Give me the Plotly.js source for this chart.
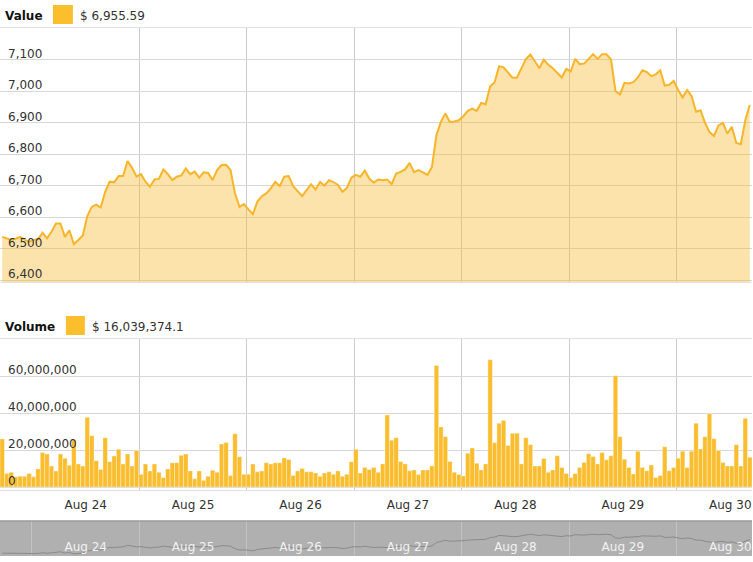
<!DOCTYPE html>
<html>
<head>
<meta charset="utf-8">
<script src="https://cdn.plot.ly/plotly-3.0.1.min.js"></script>
<style>html,body{margin:0;padding:0;background:#fff}#chart{width:753px;height:562px}</style>
</head>
<body>
<div id="chart"></div>
<script>
// Hourly series, first bar starts at this time (UTC)
const startTimeMs = Date.UTC(2018, 7, 23, 16, 51, 22);
const hourMs = 3600000;

const price = [
6537,6533,6527,6531,6537,6528,6521,6527,6529,6550,6532,6553,6579,6579,6537,6558,6514,6527,6541,6603,
6632,6639,6630,6680,6712,6710,6730,6730,6778,6756,6728,6736,6712,6696,6719,6721,6751,6736,6717,6728,
6732,6754,6736,6744,6725,6742,6740,6717,6749,6765,6766,6749,6675,6632,6641,6624,6609,6649,6666,6675,
6691,6712,6698,6728,6730,6698,6683,6666,6685,6704,6687,6711,6700,6717,6711,6702,6680,6692,6725,6734,
6728,6747,6722,6709,6719,
6717,6719,6704,6738,6743,6751,6772,6742,6749,6742,6734,6759,6860,6902,6929,6902,6903,6907,6920,6937,
6944,6937,6962,6958,7015,7028,7079,7075,7058,7042,7043,7070,7102,7116,7094,7072,7100,7083,7072,7056,
7043,7070,7062,7102,7085,7087,7103,7117,7102,7117,7117,7100,7000,6989,7026,7024,7028,7043,7066,7060,
7047,7053,7066,7017,7020,7032,7003,6979,7003,6984,6934,6939,6899,6870,6857,6891,6899,6865,6886,6835,
6831,6907,6955.59
];

const volumeMillions = [
26,7.3,8,5.5,5.8,5.8,7.3,5.5,9.8,18.6,17.8,11.3,8.6,17.8,15.5,11.8,25.5,12.4,11.3,37.7,
27.7,14.2,9.5,26.6,13.7,16.7,20.4,12.4,17.8,11.3,19.7,6.9,12.4,8.7,12.4,8,5.1,9.8,13.1,13.1,
17.1,17.8,8.7,4.4,8.7,3.6,5.8,9.1,8,23.3,24,6.2,28.8,16.4,6.9,6.9,12.4,8.2,8.7,13.1,
12.4,13.1,13.1,15.7,14.9,6.2,8.7,10,8.2,8.2,7.6,5.8,7.6,8.2,6.9,8.7,5.8,6.9,13.7,20.4,
7.6,10.6,9.5,
10.6,8,12.5,38.9,25.3,26.6,13.8,12.5,8.8,9.2,6.8,9.2,9.2,11.4,65.7,32.5,27.2,13.8,8,6.8,
5.9,18.3,21.1,12.8,9.2,12.5,68.8,23.9,34.5,36,22.4,29,29,12.5,26.6,22.9,11.4,11.4,15.4,8,
9.2,16.9,10.6,7.3,5.1,7.3,10.6,13.2,18,16.5,12.5,18.7,14.7,16.9,60.2,27.2,15,10.6,7,19.3,
10.6,8.8,11.9,5.1,6.2,21.7,8.8,10.6,15.6,19.3,10.6,19.3,34.5,20.6,27.2,39.6,26.1,19.8,13.2,11.4,
11.4,22.9,11.4,37.1,16.039374
];

const priceTicks = [6400,6500,6600,6700,6800,6900,7000,7100];
const volumeTicks = [0,20000000,40000000,60000000];
const valueLegend = '$ 6,955.59';
const volumeLegend = '$ 16,039,374.1';

const volume = volumeMillions.map(v => v * 1e6);
const times = price.map((_, i) => startTimeMs + (i + 0.5) * hourMs);
const xRange = [startTimeMs, startTimeMs + price.length * hourMs];

const W = 753, H = 562;
const py = p => 1 - p / H;
const px = p => p / W;
const fam = 'DejaVu Sans, Verdana, sans-serif';

const traces = [
  {type:'scatter', mode:'lines', x:times, y:price, xaxis:'x', yaxis:'y',
   line:{color:'#f7b52a', width:2}, fill:'tozeroy', fillcolor:'rgba(247,182,44,0.4)', hoverinfo:'skip'},
  {type:'bar', x:times, y:volume, xaxis:'x2', yaxis:'y2', width:hourMs,
   marker:{color:'#f9bd2e', line:{color:'rgba(255,255,255,0.6)', width:0.6}}, hoverinfo:'skip'},
  {type:'scatter', mode:'lines', x:times, y:price, xaxis:'x3', yaxis:'y3',
   line:{color:'#8a8a8a', width:1}, hoverinfo:'skip'}
];

const xCommon = {
  type:'date', range:xRange, dtick:86400000, tick0:'2018-08-24', ticklabelmode:'period',
  tickformat:'%b %d', ticks:'', showgrid:true, gridcolor:'#cbcbcb', gridwidth:1,
  zeroline:false, fixedrange:true
};

const layout = {
  width:W, height:H, margin:{l:0, r:1, t:0, b:0},
  paper_bgcolor:'#ffffff', plot_bgcolor:'#ffffff', showlegend:false,
  font:{family:fam, size:12, color:'#333'},
  xaxis:Object.assign({}, xCommon, {domain:[0,1], anchor:'y', showticklabels:false,
    showline:true, mirror:true, linecolor:'#e0e0e0', linewidth:1}),
  yaxis:{domain:[py(282.2), py(28)], range:[6393,7200], tickvals:priceTicks, tickformat:',d',
    ticklabelposition:'inside', ticklabelshift:-6, ticklabelstandoff:5, ticks:'',
    gridcolor:'#d8d8d8', gridwidth:1, zeroline:false, showline:false, fixedrange:true,
    tickfont:{family:fam, size:12, color:'#333'}},
  xaxis2:Object.assign({}, xCommon, {domain:[0,1], anchor:'y2', showticklabels:true,
    ticklabelstandoff:4, showline:true, mirror:true, linecolor:'#e0e0e0', linewidth:1,
    tickfont:{family:fam, size:12, color:'#333'}}),
  yaxis2:{domain:[py(489.6), py(339)], range:[-1400000,80000000], tickvals:volumeTicks, tickformat:',d',
    ticklabelposition:'inside', ticklabelshift:-6, ticklabelstandoff:5, ticks:'',
    gridcolor:'#d8d8d8', gridwidth:1, zeroline:false, showline:false, fixedrange:true,
    tickfont:{family:fam, size:12, color:'#333'}},
  xaxis3:Object.assign({}, xCommon, {domain:[0,1], anchor:'y3', showticklabels:true,
    ticklabelposition:'inside', gridcolor:'#c2c2c2', showline:false,
    tickfont:{family:fam, size:12, color:'#f2f2f2'}}),
  yaxis3:{domain:[py(556), py(521)], range:[6450,7520], showticklabels:false, showgrid:false,
    zeroline:false, ticks:'', fixedrange:true},
  shapes:[
    {type:'rect', xref:'x3 domain', yref:'y3 domain', x0:0, x1:1, y0:0, y1:1,
     fillcolor:'#b0b0b0', line:{width:0}, layer:'below'},
    {type:'line', xref:'paper', yref:'paper', x0:0, x1:1, y0:py(521), y1:py(521),
     line:{color:'#9a9a9a', width:1.5}},
    {type:'rect', xref:'paper', yref:'paper', x0:px(53), x1:px(73), y0:py(24), y1:py(5),
     fillcolor:'#fbbf2d', line:{width:0}},
    {type:'rect', xref:'paper', yref:'paper', x0:px(66), x1:px(85), y0:py(335), y1:py(316),
     fillcolor:'#fbbf2d', line:{width:0}}
  ],
  annotations:[
    {xref:'paper', yref:'paper', x:px(3), y:py(16), xanchor:'left', yanchor:'middle', showarrow:false,
     text:'<b>Value</b>', font:{family:fam, size:12, color:'#111'}},
    {xref:'paper', yref:'paper', x:px(78), y:py(16), xanchor:'left', yanchor:'middle', showarrow:false,
     text:valueLegend, font:{family:fam, size:12, color:'#333'}},
    {xref:'paper', yref:'paper', x:px(3), y:py(327), xanchor:'left', yanchor:'middle', showarrow:false,
     text:'<b>Volume</b>', font:{family:fam, size:12, color:'#111'}},
    {xref:'paper', yref:'paper', x:px(90), y:py(327), xanchor:'left', yanchor:'middle', showarrow:false,
     text:volumeLegend, font:{family:fam, size:12, color:'#333'}}
  ]
};

Plotly.newPlot('chart', traces, layout, {displayModeBar:false, staticPlot:true});
</script>
</body>
</html>
